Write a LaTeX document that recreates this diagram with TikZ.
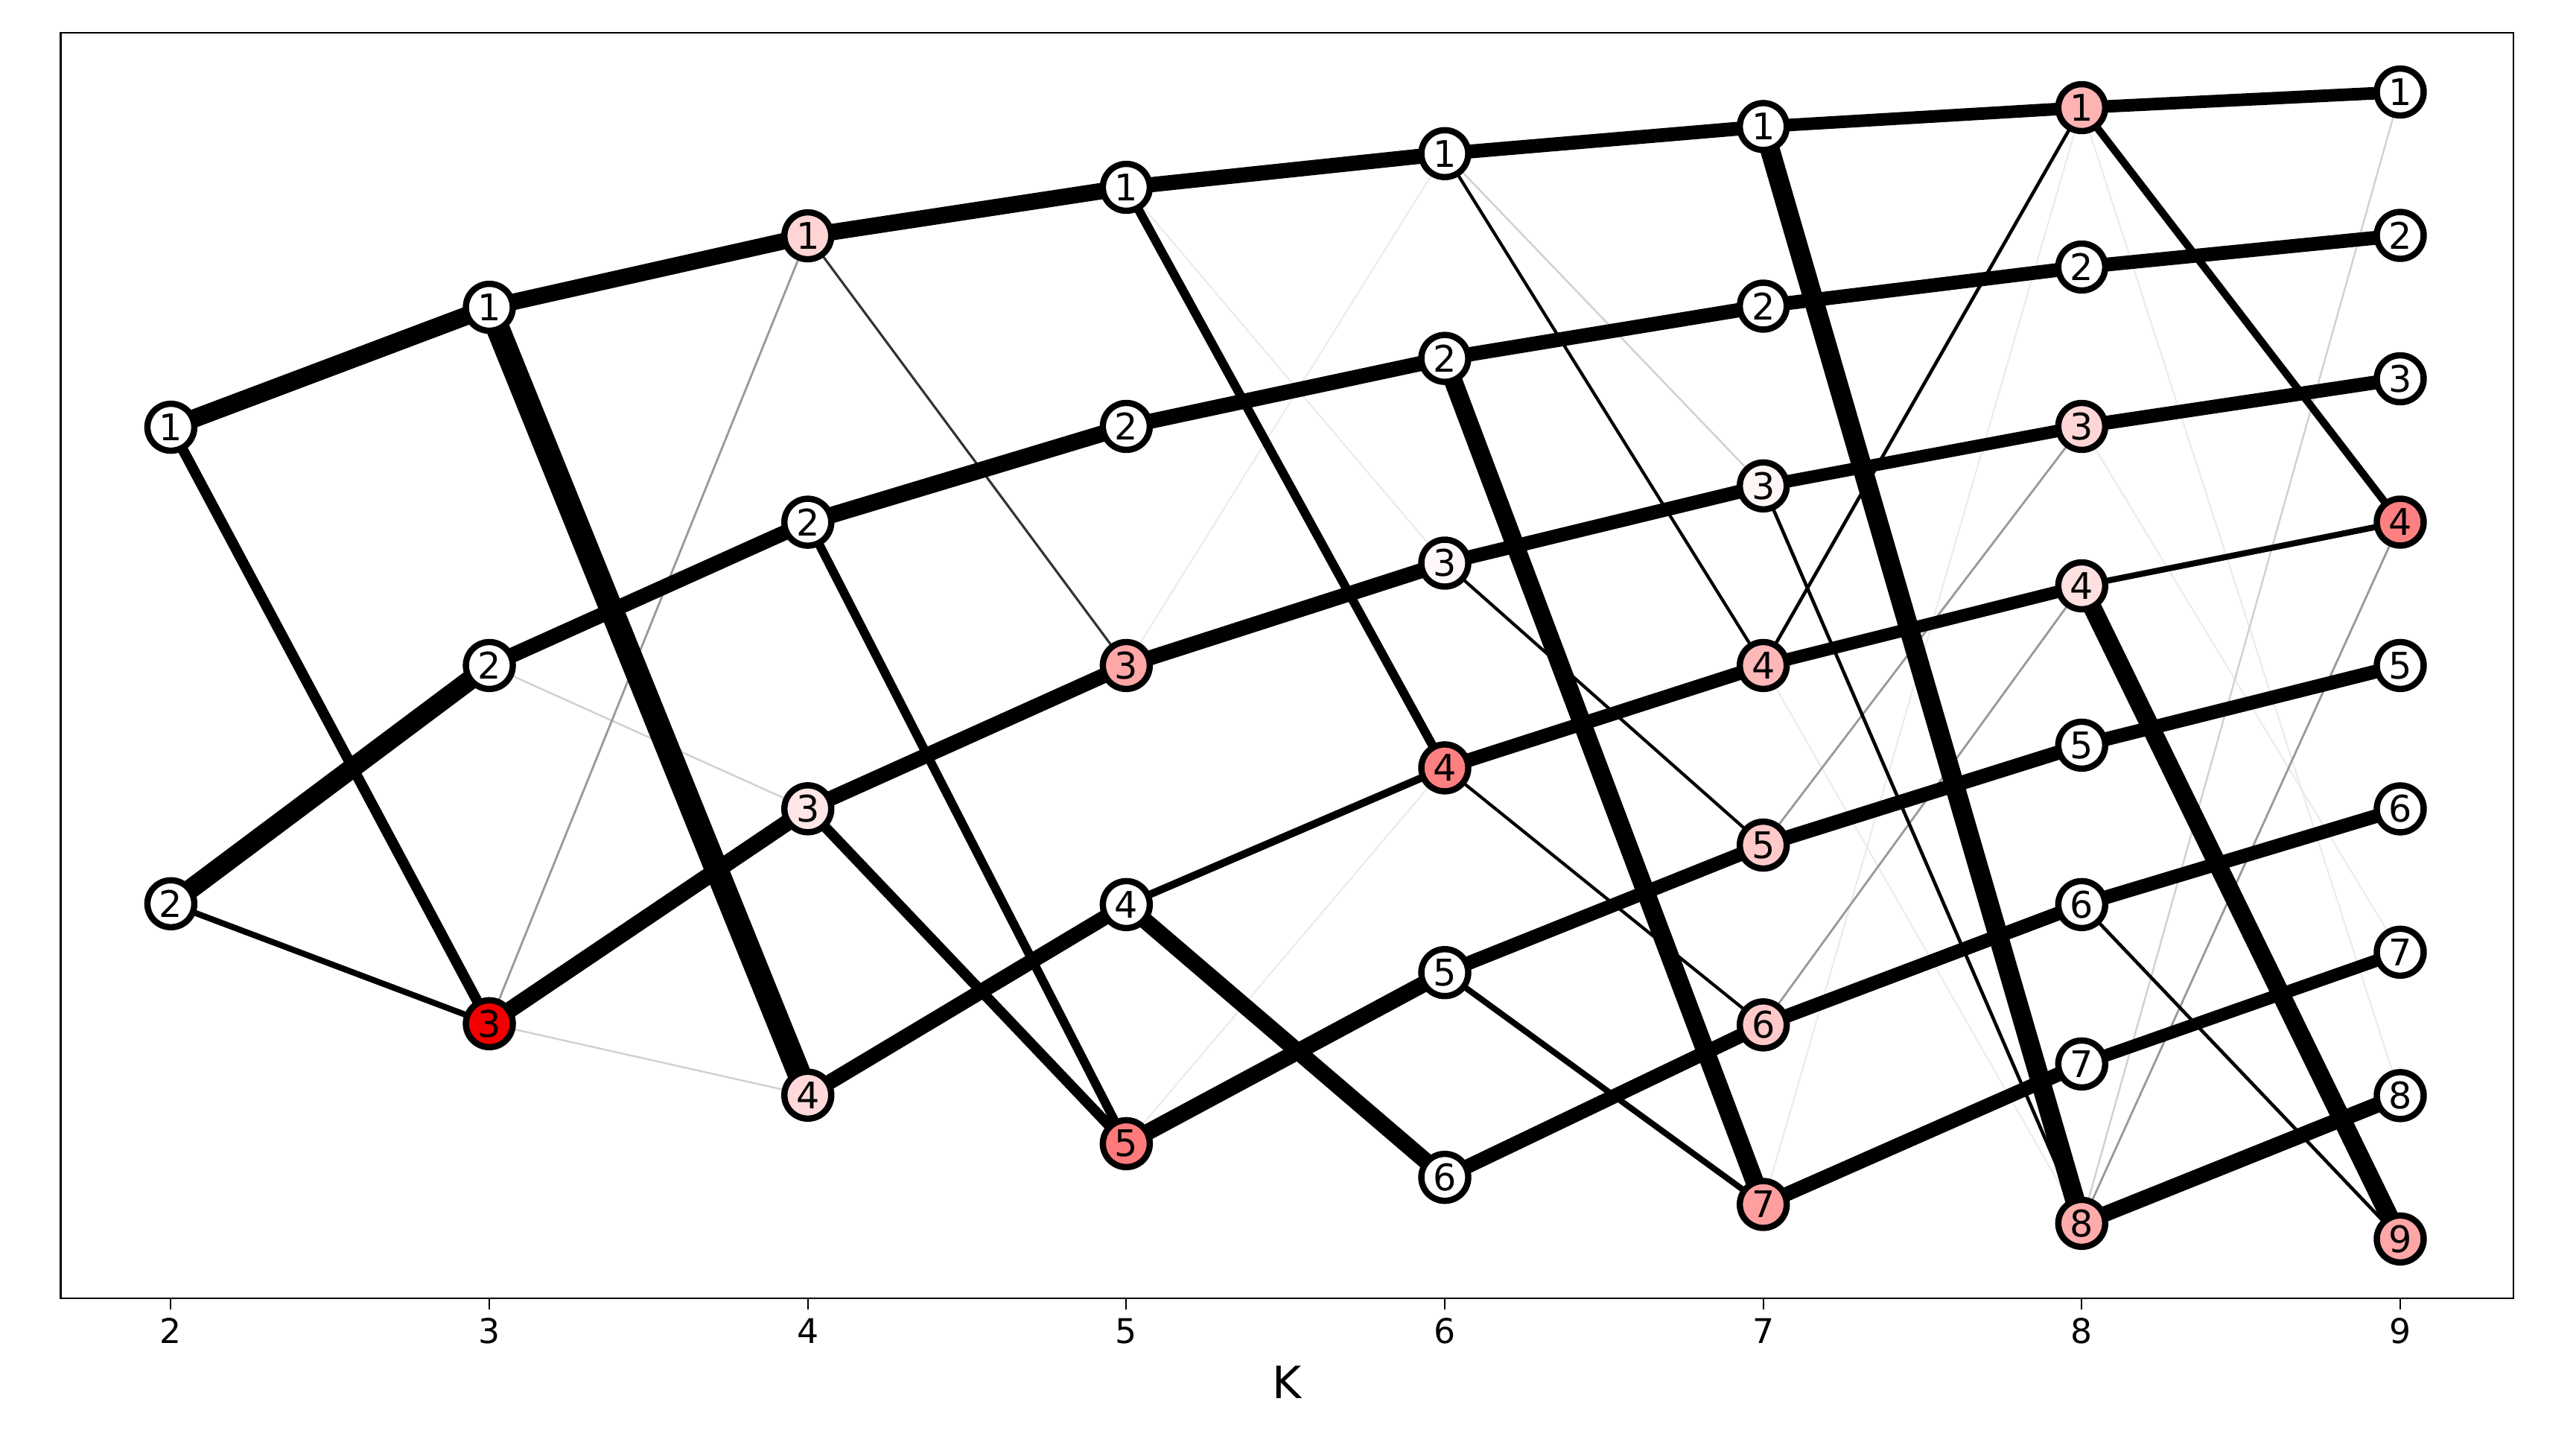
\documentclass[tikz,border=0pt]{standalone}
\usepackage{fontspec}
\setmainfont{DejaVu Sans}
\usetikzlibrary{backgrounds}
\tikzset{
  nd/.style={circle, draw=black, line width=2.4pt, minimum size=0.63cm, inner sep=0pt, fill=white, font=\fontsize{14}{14}\selectfont},
  ew/.style={line width=#1, draw=black},
  fa/.style={line width=0.6pt, draw=black!8},
  fb/.style={line width=0.7pt, draw=black!18},
  gr/.style={line width=0.8pt, draw=black!40},
  th/.style={line width=1.2pt, draw=black},
  tick/.style={line width=0.6pt, draw=black},
  ticklab/.style={font=\fontsize{13}{13}\selectfont, inner sep=0pt},
  frame/.style={line width=0.7pt, draw=black}
}
\begin{document}
\begin{tikzpicture}[x=0.02206cm, y=-0.02206cm]
\useasboundingbox (0,0) rectangle (1568,883);
% axes frame
\draw[frame] (37,20) rectangle (1530,790);
% ticks and labels
\foreach \k [count=\j from 0] in {2,...,9} {
  \coordinate (t\k) at ({104+\j*193.857},790);
  \draw[tick] (t\k) -- ++(0,7);
  \node[ticklab] (tl\k) at ({104+\j*193.857},810) {\k};
}
\node[font=\fontsize{17}{17}\selectfont, inner sep=0pt] (xl) at (783.5,841) {K};

% nodes K=2
\node[nd] (n2-1) at (104,260) {1};
\node[nd] (n2-2) at (104,550) {2};
% K=3
\node[nd] (n3-1) at (297.86,187) {1};
\node[nd] (n3-2) at (297.86,405) {2};
\node[nd, fill=red!95!black] (n3-3) at (297.86,623) {3};
% K=4
\node[nd, fill=red!17] (n4-1) at (491.71,143.5) {1};
\node[nd] (n4-2) at (491.71,317.8) {2};
\node[nd, fill=red!10] (n4-3) at (491.71,492.2) {3};
\node[nd, fill=red!15] (n4-4) at (491.71,666.5) {4};
% K=5
\node[nd] (n5-1) at (685.57,114) {1};
\node[nd] (n5-2) at (685.57,259.5) {2};
\node[nd, fill=red!35] (n5-3) at (685.57,405) {3};
\node[nd] (n5-4) at (685.57,550.5) {4};
\node[nd, fill=red!52] (n5-5) at (685.57,696) {5};
% K=6
\node[nd] (n6-1) at (879.43,93.5) {1};
\node[nd] (n6-2) at (879.43,218.1) {2};
\node[nd, fill=red!3] (n6-3) at (879.43,342.7) {3};
\node[nd, fill=red!50] (n6-4) at (879.43,467.3) {4};
\node[nd] (n6-5) at (879.43,591.9) {5};
\node[nd] (n6-6) at (879.43,716.5) {6};
% K=7
\node[nd] (n7-1) at (1073.29,77) {1};
\node[nd] (n7-2) at (1073.29,186.3) {2};
\node[nd, fill=red!4] (n7-3) at (1073.29,295.7) {3};
\node[nd, fill=red!28] (n7-4) at (1073.29,405) {4};
\node[nd, fill=red!21] (n7-5) at (1073.29,514.3) {5};
\node[nd, fill=red!21] (n7-6) at (1073.29,623.7) {6};
\node[nd, fill=red!38] (n7-7) at (1073.29,733) {7};
% K=8
\node[nd, fill=red!30] (n8-1) at (1267.14,65.5) {1};
\node[nd] (n8-2) at (1267.14,162.5) {2};
\node[nd, fill=red!16] (n8-3) at (1267.14,259.5) {3};
\node[nd, fill=red!12] (n8-4) at (1267.14,356.5) {4};
\node[nd] (n8-5) at (1267.14,453.5) {5};
\node[nd] (n8-6) at (1267.14,550.5) {6};
\node[nd] (n8-7) at (1267.14,647.5) {7};
\node[nd, fill=red!33] (n8-8) at (1267.14,744.5) {8};
% K=9
\node[nd] (n9-1) at (1461,56) {1};
\node[nd] (n9-2) at (1461,143.25) {2};
\node[nd] (n9-3) at (1461,230.5) {3};
\node[nd, fill=red!50] (n9-4) at (1461,317.75) {4};
\node[nd] (n9-5) at (1461,405) {5};
\node[nd] (n9-6) at (1461,492.25) {6};
\node[nd] (n9-7) at (1461,579.5) {7};
\node[nd] (n9-8) at (1461,666.75) {8};
\node[nd, fill=red!35] (n9-9) at (1461,754) {9};

\begin{pgfonlayer}{background}
% faint and gray edges
\draw[fb] (n3-2.center) -- (n4-3.center);
\draw[fb] (n3-3.center) -- (n4-4.center);
\draw[gr] (n3-3.center) -- (n4-1.center);
\draw[line width=0.9pt, draw=black!80] (n4-1.center) -- (n5-3.center);
\draw[fa] (n5-3.center) -- (n6-1.center);
\draw[fa] (n5-1.center) -- (n6-3.center);
\draw[fa] (n5-5.center) -- (n6-4.center);
\draw[fb] (n6-1.center) -- (n7-3.center);
\draw[fa] (n7-4.center) -- (n8-8.center);
\draw[fa] (n7-7.center) -- (n8-1.center);
\draw[gr] (n7-5.center) -- (n8-3.center);
\draw[gr] (n7-6.center) -- (n8-4.center);
\draw[fa] (n8-1.center) -- (n9-8.center);
\draw[fa] (n8-3.center) -- (n9-7.center);
\draw[fb] (n8-8.center) -- (n9-1.center);
\draw[gr] (n8-8.center) -- (n9-4.center);
% K2 -> K3
\draw[ew=7pt] (n2-1.center) -- (n3-1.center);
\draw[ew=4pt] (n2-1.center) -- (n3-3.center);
\draw[ew=7.5pt] (n2-2.center) -- (n3-2.center);
\draw[ew=2.3pt] (n2-2.center) -- (n3-3.center);
% K3 -> K4
\draw[ew=6.3pt] (n3-1.center) -- (n4-1.center);
\draw[ew=9pt] (n3-1.center) -- (n4-4.center);
\draw[ew=5.8pt] (n3-2.center) -- (n4-2.center);
\draw[ew=6.3pt] (n3-3.center) -- (n4-3.center);
% K4 -> K5
\draw[ew=6.3pt] (n4-1.center) -- (n5-1.center);
\draw[ew=6.3pt] (n4-2.center) -- (n5-2.center);
\draw[ew=3.4pt] (n4-2.center) -- (n5-5.center);
\draw[ew=5.8pt] (n4-3.center) -- (n5-3.center);
\draw[ew=4pt] (n4-3.center) -- (n5-5.center);
\draw[ew=5.8pt] (n4-4.center) -- (n5-4.center);
% K5 -> K6
\draw[ew=5.8pt] (n5-1.center) -- (n6-1.center);
\draw[ew=3.4pt] (n5-1.center) -- (n6-4.center);
\draw[ew=5.8pt] (n5-2.center) -- (n6-2.center);
\draw[ew=5.8pt] (n5-3.center) -- (n6-3.center);
\draw[ew=2.9pt] (n5-4.center) -- (n6-4.center);
\draw[ew=6.3pt] (n5-4.center) -- (n6-6.center);
\draw[ew=6.3pt] (n5-5.center) -- (n6-5.center);
% K6 -> K7
\draw[ew=5.3pt] (n6-1.center) -- (n7-1.center);
\draw[th] (n6-1.center) -- (n7-4.center);
\draw[ew=5.5pt] (n6-2.center) -- (n7-2.center);
\draw[ew=7pt] (n6-2.center) -- (n7-7.center);
\draw[ew=5.3pt] (n6-3.center) -- (n7-3.center);
\draw[th] (n6-3.center) -- (n7-5.center);
\draw[ew=5.3pt] (n6-4.center) -- (n7-4.center);
\draw[th] (n6-4.center) -- (n7-6.center);
\draw[ew=5.3pt] (n6-5.center) -- (n7-5.center);
\draw[ew=2.3pt] (n6-5.center) -- (n7-7.center);
\draw[ew=5.5pt] (n6-6.center) -- (n7-6.center);
% K7 -> K8
\draw[ew=4.8pt] (n7-1.center) -- (n8-1.center);
\draw[ew=7.5pt] (n7-1.center) -- (n8-8.center);
\draw[ew=5.3pt] (n7-2.center) -- (n8-2.center);
\draw[ew=4.8pt] (n7-3.center) -- (n8-3.center);
\draw[ew=1.3pt] (n7-3.center) -- (n8-8.center);
\draw[ew=4.8pt] (n7-4.center) -- (n8-4.center);
\draw[ew=1.3pt] (n7-4.center) -- (n8-1.center);
\draw[ew=5.5pt] (n7-5.center) -- (n8-5.center);
\draw[ew=5.3pt] (n7-6.center) -- (n8-6.center);
\draw[ew=5.5pt] (n7-7.center) -- (n8-7.center);
% K8 -> K9
\draw[ew=4.8pt] (n8-1.center) -- (n9-1.center);
\draw[ew=2.9pt] (n8-1.center) -- (n9-4.center);
\draw[ew=5.3pt] (n8-2.center) -- (n9-2.center);
\draw[ew=5.3pt] (n8-3.center) -- (n9-3.center);
\draw[ew=2.3pt] (n8-4.center) -- (n9-4.center);
\draw[ew=7pt] (n8-4.center) -- (n9-9.center);
\draw[ew=5.3pt] (n8-5.center) -- (n9-5.center);
\draw[ew=5.3pt] (n8-6.center) -- (n9-6.center);
\draw[ew=1.3pt] (n8-6.center) -- (n9-9.center);
\draw[ew=4.8pt] (n8-7.center) -- (n9-7.center);
\draw[ew=6pt] (n8-8.center) -- (n9-8.center);
\end{pgfonlayer}
\end{tikzpicture}
\end{document}
